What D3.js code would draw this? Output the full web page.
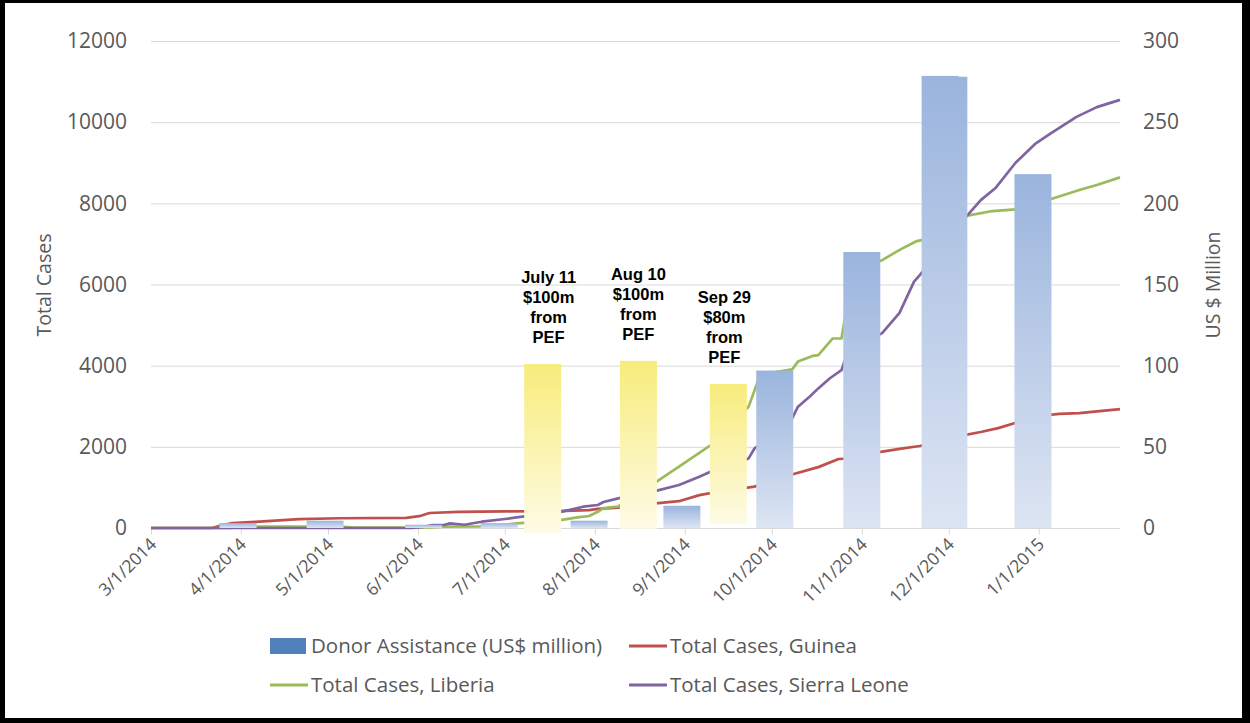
<!DOCTYPE html>
<html><head><meta charset="utf-8">
<script src="https://cdn.jsdelivr.net/npm/d3@7"></script>
<style>
html,body{margin:0;padding:0;background:#000;}
svg{display:block;}
</style>
</head><body>
<svg id="chart" width="1250" height="723"></svg>
<script>
// ---------------- DATA ----------------
const guinea = [["2014-03-01",0],["2014-03-22",0],["2014-03-25",60],["2014-03-29",120],["2014-04-06",150],["2014-04-21",220],["2014-05-05",240],["2014-05-28",250],["2014-06-02",300],["2014-06-05",370],["2014-06-15",395],["2014-07-01",410],["2014-07-19",415],["2014-07-30",440],["2014-08-02",470],["2014-08-09",500],["2014-08-21",600],["2014-08-30",660],["2014-09-06",810],["2014-09-13",900],["2014-09-25",1020],["2014-10-07",1300],["2014-10-17",1500],["2014-10-24",1700],["2014-11-01",1730],["2014-11-07",1870],["2014-11-14",1950],["2014-11-21",2020],["2014-11-29",2170],["2014-12-05",2270],["2014-12-12",2365],["2014-12-18",2460],["2014-12-25",2610],["2015-01-01",2760],["2015-01-08",2810],["2015-01-15",2830],["2015-01-22",2880],["2015-01-29",2930]];

const liberia = [["2014-03-01",0],["2014-03-28",0],["2014-04-01",20],["2014-04-06",35],["2014-05-05",35],["2014-05-10",12],["2014-06-05",12],["2014-06-10",35],["2014-06-23",40],["2014-07-01",80],["2014-07-05",115],["2014-07-19",180],["2014-07-26",260],["2014-07-30",296],["2014-08-02",400],["2014-08-04",490],["2014-08-09",530],["2014-08-21",1080],["2014-08-30",1510],["2014-09-06",1850],["2014-09-10",2045],["2014-09-23",2990],["2014-09-27",3780],["2014-10-08",3910],["2014-10-10",4100],["2014-10-15",4240],["2014-10-17",4260],["2014-10-22",4670],["2014-10-25",4670],["2014-10-29",6350],["2014-11-08",6600],["2014-11-13",6810],["2014-11-15",6890],["2014-11-20",7070],["2014-11-22",7100],["2014-12-07",7690],["2014-12-16",7810],["2014-12-24",7850],["2015-01-05",8100],["2015-01-15",8330],["2015-01-21",8450],["2015-01-29",8640]];

const sierraLeone = [["2014-03-01",0],["2014-05-30",0],["2014-06-03",30],["2014-06-06",74],["2014-06-10",74],["2014-06-12",115],["2014-06-17",80],["2014-06-23",155],["2014-07-01",222],["2014-07-05",260],["2014-07-19",380],["2014-07-23",440],["2014-07-28",525],["2014-08-02",567],["2014-08-04",640],["2014-08-09",730],["2014-08-21",895],["2014-08-30",1060],["2014-09-06",1265],["2014-09-10",1390],["2014-09-23",1715],["2014-09-25",1960],["2014-10-08",2700],["2014-10-10",2990],["2014-10-14",3235],["2014-10-17",3440],["2014-10-21",3690],["2014-10-25",3890],["2014-10-27",4310],["2014-11-08",4800],["2014-11-14",5300],["2014-11-19",6070],["2014-11-21",6230],["2014-12-07",7670],["2014-12-12",8080],["2014-12-17",8370],["2014-12-24",9000],["2014-12-31",9480],["2015-01-05",9720],["2015-01-14",10130],["2015-01-21",10370],["2015-01-29",10550]];

const donorDates  = ["2014-03-31","2014-04-30","2014-06-03","2014-06-29","2014-07-30","2014-08-31","2014-10-02","2014-11-01","2014-11-28","2014-12-01","2014-12-30"];
const donorValues = [3, 4.5, 2, 3, 4.5, 13.7, 97, 170, 278.5, 278, 218];

const pefDates  = ["2014-07-14","2014-08-16","2014-09-16"];
const pefLow    = [-3, -0.5, 2.3];
const pefHigh   = [101, 103, 88.7];
const pefLabels = [["July 11","$100m","from","PEF"],["Aug 10","$100m","from","PEF"],["Sep 29","$80m","from","PEF"]];

const leftTicks  = [0,2000,4000,6000,8000,10000,12000];
const rightTicks = [0,50,100,150,200,250,300];
const xDomain = ["2014-03-01","2015-01-29"];

const legendItems = [
  {label:"Donor Assistance (US$ million)", type:"rect", color:"#4f81bd"},
  {label:"Total Cases, Guinea", type:"line", color:"#c0504d"},
  {label:"Total Cases, Liberia", type:"line", color:"#9bbb59"},
  {label:"Total Cases, Sierra Leone", type:"line", color:"#8064a2"}
];

// ---------------- CHART ----------------
const parse = d3.utcParse("%Y-%m-%d");
const svg = d3.select("#chart");
const font = "'Open Sans', 'DejaVu Sans', sans-serif";
const grey = "#595959";

// frame
svg.append("rect").attr("x",5).attr("y",3).attr("width",1237).attr("height",715).attr("fill","#fff");

const x = d3.scaleUtc().domain(xDomain.map(parse)).range([151,1120]);
const yL = d3.scaleLinear().domain([0,12000]).range([528,41]);
const yR = d3.scaleLinear().domain([0,300]).range([528,41]);

const defs = svg.append("defs");
const gb = defs.append("linearGradient").attr("id","gBlue").attr("x1",0).attr("y1",0).attr("x2",0).attr("y2",1);
gb.append("stop").attr("offset","0%").attr("stop-color","#9ab4dd");
gb.append("stop").attr("offset","100%").attr("stop-color","#dde5f3");
const gy = defs.append("linearGradient").attr("id","gYellow").attr("x1",0).attr("y1",0).attr("x2",0).attr("y2",1);
gy.append("stop").attr("offset","0%").attr("stop-color","#f7ec7c");
gy.append("stop").attr("offset","100%").attr("stop-color","#fefbe5");

// gridlines
svg.append("g").selectAll("line").data(leftTicks.slice(1)).join("line")
  .attr("x1",151).attr("x2",1120).attr("y1",d=>yL(d)+0.5).attr("y2",d=>yL(d)+0.5)
  .attr("stroke","#d9d9d9").attr("stroke-width",1);

// left axis labels
const axL = d3.axisLeft(yL).tickValues(leftTicks).tickSize(0).tickPadding(0).tickFormat(d3.format("d"));
const gL = svg.append("g").attr("transform","translate(127,0)").call(axL);
gL.select(".domain").remove();
gL.selectAll("text").attr("font-family",font).attr("font-size",21).attr("fill",grey);

// right axis labels
const axR = d3.axisRight(yR).tickValues(rightTicks).tickSize(0).tickPadding(0).tickFormat(d3.format("d"));
const gR = svg.append("g").attr("transform","translate(1143,0)").call(axR);
gR.select(".domain").remove();
gR.selectAll("text").attr("font-family",font).attr("font-size",21).attr("fill",grey);

// x axis
const axX = d3.axisBottom(x).ticks(d3.utcMonth.every(1)).tickSize(6).tickFormat(d3.utcFormat("%-m/%-d/%Y"));
const gX = svg.append("g").attr("transform","translate(0,528.5)").call(axX);
gX.select(".domain").attr("stroke","#d9d9d9").attr("d","M151,0H1120");
gX.selectAll(".tick line").attr("stroke","#d9d9d9");
gX.selectAll(".tick text").attr("font-family",font).attr("font-size",17.5).attr("fill",grey)
  .attr("text-anchor","end").attr("dy",0).attr("y",0)
  .attr("transform","translate(6,17) rotate(-45)");

// lines
const line = d3.line().x(d=>x(parse(d[0]))).y(d=>yL(d[1]));
[[guinea,"#c0504d"],[liberia,"#9bbb59"],[sierraLeone,"#8064a2"]].forEach(([data,c])=>{
  svg.append("path").datum(data).attr("d",line).attr("fill","none")
    .attr("stroke",c).attr("stroke-width",2.7).attr("stroke-linejoin","round");
});

// donor bars
const bw = 37;
svg.append("g").selectAll("rect").data(donorDates.map((d,i)=>({d:parse(d),v:donorValues[i]}))).join("rect")
  .attr("x",d=>x(d.d)-bw/2).attr("width",bw)
  .attr("y",d=>yR(d.v)).attr("height",d=>yR(0)-yR(d.v))
  .attr("fill","url(#gBlue)");

// PEF bars
const pef = pefDates.map((d,i)=>({d:parse(d),lo:pefLow[i],hi:pefHigh[i],lab:pefLabels[i]}));
svg.append("g").selectAll("rect").data(pef).join("rect")
  .attr("x",d=>x(d.d)-bw/2).attr("width",bw)
  .attr("y",d=>yR(d.hi)).attr("height",d=>yR(d.lo)-yR(d.hi))
  .attr("fill","url(#gYellow)");

// annotations (one text per line)
const ann = svg.append("g").attr("font-family","'Liberation Sans', Arial, sans-serif").attr("font-weight","bold")
  .attr("font-size",16.5).attr("fill","#000").attr("text-anchor","middle");
const annShift = [6, 0, -4];
pef.forEach((p,i)=>{
  const ax = x(p.d)+annShift[i];
  p.lab.forEach((s,k)=>ann.append("text").attr("x",ax).attr("y",yR(p.hi)-81+k*20).text(s));
});

// axis titles
svg.append("text").attr("transform","translate(51,285) rotate(-90)").attr("text-anchor","middle")
  .attr("font-family",font).attr("font-size",19.5).attr("fill",grey).text("Total Cases");
svg.append("text").attr("transform","translate(1220,285) rotate(-90)").attr("text-anchor","middle")
  .attr("font-family",font).attr("font-size",19.5).attr("fill",grey).text("US $ Million");

// legend
const colX = [270, 629], rowY = [646, 685];
const leg = svg.append("g");
legendItems.forEach((it,i)=>{
  const cx = colX[i%2], cy = rowY[Math.floor(i/2)];
  if(it.type==="rect"){
    leg.append("rect").attr("x",cx).attr("y",cy-8).attr("width",36).attr("height",16).attr("fill",it.color);
  } else {
    leg.append("line").attr("x1",cx).attr("x2",cx+38).attr("y1",cy).attr("y2",cy).attr("stroke",it.color).attr("stroke-width",3);
  }
  leg.append("text").attr("x",cx+41).attr("y",cy).attr("dy","0.35em")
    .attr("font-family",font).attr("font-size",20.5).attr("fill",grey).text(it.label);
});
</script>
</body></html>
